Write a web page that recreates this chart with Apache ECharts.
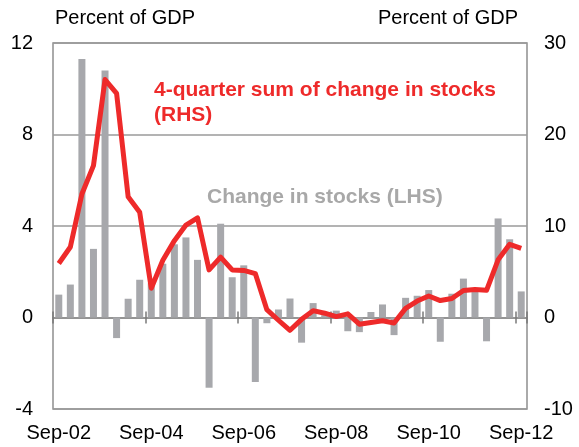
<!DOCTYPE html>
<html lang="en">
    <head>
        <meta charset="UTF-8">
        <title>Change in stocks</title>
        <script src="https://cdn.jsdelivr.net/npm/echarts@6/dist/echarts.min.js"></script>
        <style type="text/css">
            html, body {
                margin: 0;
                padding: 0;
                background: #fff;
            }
        </style>
    </head>
    <body>
        <div id="main" style="width: 579px;height:447px;"></div>
    </body>

    <script type="text/javascript">
        // quarters, Sep-02 .. Sep-12
        var quarters = [
            'Sep-02', 'Dec-02', 'Mar-03', 'Jun-03', 'Sep-03', 'Dec-03', 'Mar-04', 'Jun-04',
            'Sep-04', 'Dec-04', 'Mar-05', 'Jun-05', 'Sep-05', 'Dec-05', 'Mar-06', 'Jun-06',
            'Sep-06', 'Dec-06', 'Mar-07', 'Jun-07', 'Sep-07', 'Dec-07', 'Mar-08', 'Jun-08',
            'Sep-08', 'Dec-08', 'Mar-09', 'Jun-09', 'Sep-09', 'Dec-09', 'Mar-10', 'Jun-10',
            'Sep-10', 'Dec-10', 'Mar-11', 'Jun-11', 'Sep-11', 'Dec-11', 'Mar-12', 'Jun-12',
            'Sep-12'
        ];
        // change in stocks, per cent of GDP (LHS)
        var stocks = [
            1.0, 1.44, 11.3, 3.0, 10.8, -0.9, 0.82, 1.65,
            1.5, 2.35, 3.2, 3.5, 2.52, -3.07, 4.1, 1.76,
            2.28, -2.82, -0.25, 0.35, 0.83, -1.1, 0.63, 0.1,
            0.3, -0.6, -0.64, 0.24, 0.57, -0.77, 0.86, 0.95,
            1.2, -1.06, 1.04, 1.7, 1.26, -1.04, 4.33, 3.42,
            1.14
        ];
        // 4-quarter sum (RHS)
        var sum4q = [
            5.9, 7.7, 13.5, 16.6, 26.0, 24.5, 13.2, 11.5,
            3.2, 6.25, 8.4, 10.1, 10.9, 5.2, 6.6, 5.2,
            5.15, 4.8, 0.85, -0.3, -1.4, -0.2, 0.75, 0.47,
            0.1, 0.4, -0.73, -0.55, -0.35, -0.6, 1.0, 1.8,
            2.35, 1.85, 2.07, 2.95, 3.07, 2.97, 6.3, 8.0,
            7.55
        ];
        var leftTicks = {min: -4, max: 12, interval: 4};
        var rightTicks = {min: -10, max: 30, interval: 10};

        var FONT = 'Liberation Sans, Arial, sans-serif';
        var GRID_GREY = '#9a9a9a';
        var RED = '#ee2a2a';

        var myChart = echarts.init(document.getElementById('main'));
        myChart.setOption({
            animation: false,
            grid: {
                left: 53, right: 52, top: 43, bottom: 38,
                show: true,
                borderColor: '#8f8f8f',
                borderWidth: 1.5
            },
            xAxis: [{
                // labels along the bottom
                type: 'category',
                data: quarters,
                position: 'bottom',
                axisLine: {show: false, onZero: false},
                axisTick: {show: false},
                axisLabel: {interval: 7, margin: 14, color: '#000', fontSize: 20, fontFamily: FONT}
            }, {
                // zero line, ticks pointing down
                type: 'category',
                data: quarters,
                position: 'bottom',
                axisLine: {show: true, onZero: true, lineStyle: {color: '#8a8a8a', width: 1.5}},
                axisTick: {show: true, interval: 7, length: 6, lineStyle: {color: '#7a7a7a', width: 1.5}},
                axisLabel: {show: false}
            }, {
                // ticks pointing up
                type: 'category',
                data: quarters,
                position: 'bottom',
                axisLine: {show: false, onZero: true},
                axisTick: {show: true, inside: true, interval: 7, length: 6, lineStyle: {color: '#7a7a7a', width: 1.5}},
                axisLabel: {show: false}
            }],
            yAxis: [{
                type: 'value',
                min: leftTicks.min, max: leftTicks.max, interval: leftTicks.interval,
                axisLine: {show: false},
                axisTick: {show: false},
                axisLabel: {margin: 20, color: '#000', fontSize: 20, fontFamily: FONT},
                splitLine: {lineStyle: {color: GRID_GREY, width: 1.5}}
            }, {
                type: 'value',
                min: rightTicks.min, max: rightTicks.max, interval: rightTicks.interval,
                axisLine: {show: false},
                axisTick: {show: false},
                axisLabel: {margin: 17, color: '#000', fontSize: 20, fontFamily: FONT},
                splitLine: {show: false}
            }],
            graphic: [
                {type: 'text', left: 55, top: 8, style: {text: 'Percent of GDP', fill: '#000', font: '20px ' + FONT}},
                {type: 'text', right: 61, top: 8, style: {text: 'Percent of GDP', fill: '#000', font: '20px ' + FONT}},
                {type: 'text', left: 154, top: 78, style: {text: '4-quarter sum of change in stocks\n(RHS)', fill: RED, font: 'bold 21px ' + FONT, lineHeight: 25}},
                {type: 'text', left: 207, top: 187, style: {text: 'Change in stocks (LHS)', fill: '#a8a8a8', font: 'bold 21px ' + FONT}}
            ],
            series: [{
                name: 'Change in stocks (LHS)',
                type: 'bar',
                xAxisIndex: 0,
                yAxisIndex: 0,
                data: stocks,
                barWidth: 7,
                itemStyle: {color: '#a7a8ac'}
            }, {
                name: '4-quarter sum of change in stocks (RHS)',
                type: 'line',
                xAxisIndex: 0,
                yAxisIndex: 1,
                data: sum4q,
                symbol: 'none',
                lineStyle: {color: RED, width: 5, join: 'round'},
                z: 5
            }]
        });
    </script>
</html>
